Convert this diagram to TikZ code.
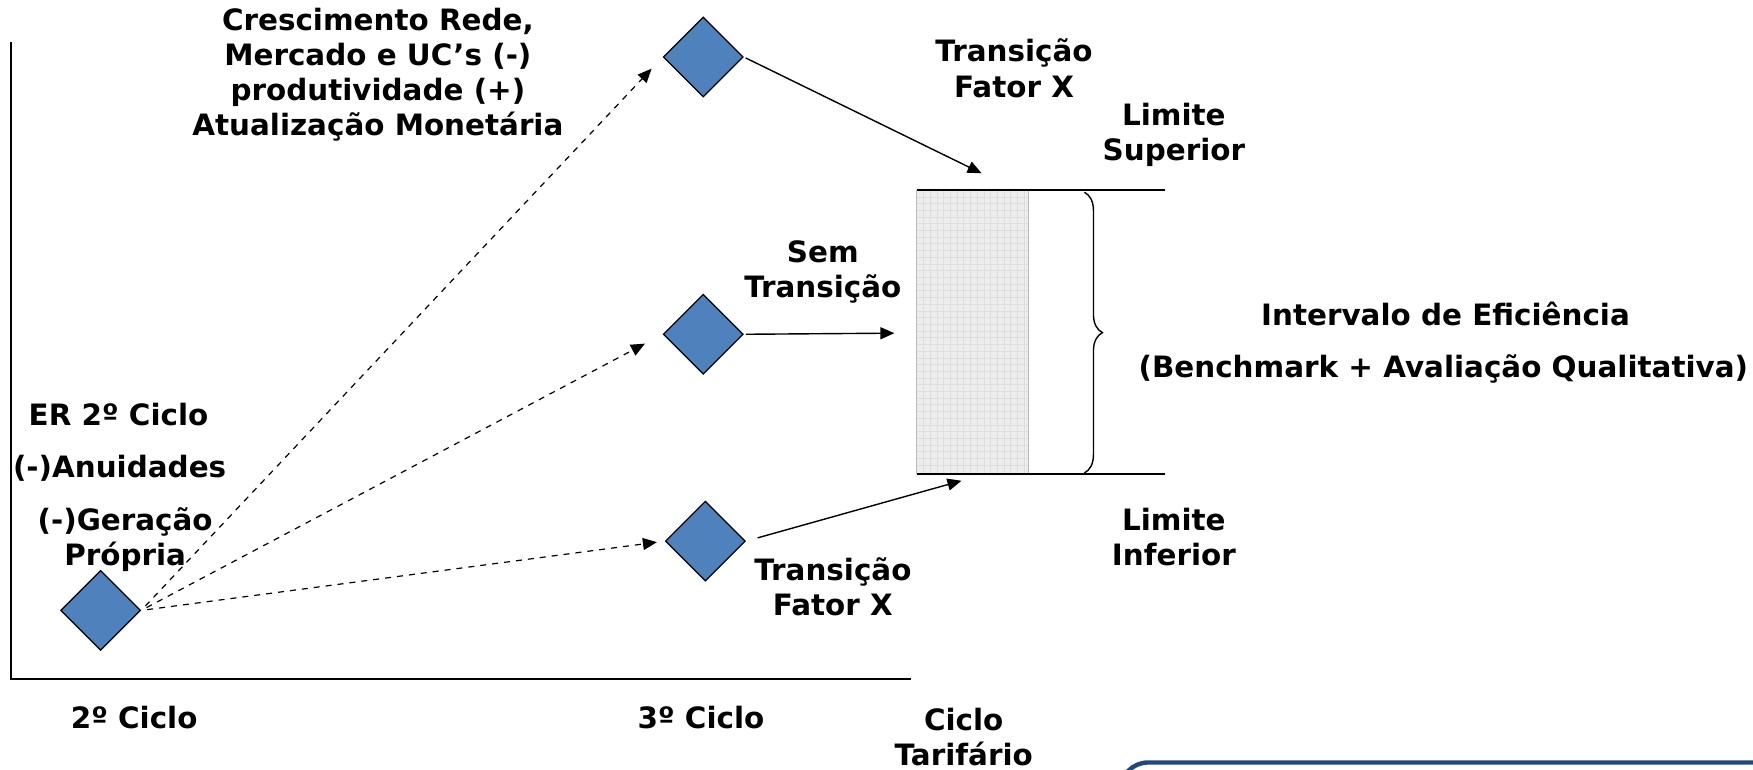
\documentclass[tikz,border=0pt]{standalone}
\usepackage{fontspec}
\setmainfont{DejaVu Sans}
\usepackage{tikz}
\usetikzlibrary{shapes.geometric, arrows.meta}
\usetikzlibrary{decorations.pathreplacing}

\definecolor{losblue}{RGB}{79,129,189}
\definecolor{boxnavy}{RGB}{31,73,125}

\tikzset{
	lbl/.style={font=\bfseries\fontsize{14.7}{17.6}\selectfont, align=center, inner sep=0pt},
	losango/.style={diamond, draw=black, fill=losblue, line width=0.6pt, minimum size=40pt, inner sep=0pt, aspect=1},
	seta/.style={-{Triangle[length=7pt,width=6pt]}, line width=0.7pt},
	tracejada/.style={seta, dashed, line width=0.6pt}
}

\begin{document}
\begin{tikzpicture}[x=0.559pt, y=-0.559pt]
	\useasboundingbox (0,0) rectangle (1568,688);

	%axes
	\draw[line width=0.8pt] (10,38)--(10,608);
	\draw[line width=1.1pt] (10,607)--(815,607);

	%diamonds
	\node[losango] (c2)  at (90,546) {};
	\node[losango] (c3a) at (629,51) {};
	\node[losango] (c3b) at (629,299) {};
	\node[losango] (c3c) at (631,484) {};

	%interval box
	\fill[gray!14] (820,170) rectangle (920,424);
	\foreach \gx in {826,832,...,916} \draw[gray!26, line width=0.25pt] (\gx,170)--(\gx,424);
	\foreach \gy in {176,182,...,420} \draw[gray!26, line width=0.25pt] (820,\gy)--(920,\gy);
	\draw[gray!55, line width=0.7pt] (820,170)--(820,424) (920,170)--(920,424);
	\draw[line width=0.9pt] (820,170)--(1042,170);	%top limit
	\draw[line width=0.9pt] (820,424)--(1042,424);	%bottom limit
	\draw[line width=0.7pt, decorate, decoration={brace, amplitude=9pt}] (970,172)--(970,423);

	%arrow ends
	\coordinate (topend) at (878,155);
	\coordinate (midend) at (800,298);
	\coordinate (botend) at (860,430);

	%dashed arrows
	\draw[tracejada, shorten <=3pt, shorten >=8pt] (c2.east)--(c3a.west);
	\draw[tracejada, shorten <=3pt, shorten >=10pt] (c2.east)--(c3b.west);
	\draw[tracejada, shorten <=3pt, shorten >=4pt] (c2.east)--(c3c.west);

	%solid arrows
	\draw[seta, shorten <=1pt] (c3a.east)--(topend);
	\draw[seta, shorten <=1pt] (c3b.east)--(midend);
	\draw[seta, shorten <=6pt] (c3c.east)--(botend);

	%labels
	\node[lbl] (cresc) at (338,67) {Crescimento Rede,\\Mercado e UC’s (-)\\produtividade (+)\\Atualização Monetária};
	\node[lbl] (trtop) at (907,61) {Transição\\Fator X};
	\node[lbl] (limsup) at (1050,121) {Limite\\Superior};
	\node[lbl] (semtr) at (736,243) {Sem\\Transição};
	\node[lbl] (interv) at (1293,281) {Intervalo de Eficiência};
	\node[lbl] (bench) at (1291,330) {(Benchmark + Avaliação Qualitativa)};
	\node[lbl] (er2) at (106,371) {ER 2º Ciclo};
	\node[lbl] (anuid) at (107,419) {(-)Anuidades};
	\node[lbl] (gerac) at (112,483) {(-)Geração\\Própria};
	\node[lbl] (liminf) at (1050,480) {Limite\\Inferior};
	\node[lbl] (trbot) at (745,525) {Transição\\Fator X};

	%axis labels
	\node[lbl] (ciclo2) at (120,642) {2º Ciclo};
	\node[lbl] (ciclo3) at (627,642) {3º Ciclo};
	\node[lbl] (ciclot) at (862,659) {Ciclo\\Tarifário};

	%box at the corner
	\begin{scope}
		\clip (0,0) rectangle (1568,688);
		\draw[boxnavy, line width=2.2pt, rounded corners=14pt] (1002,682) rectangle (1620,800);
	\end{scope}
\end{tikzpicture}
\end{document}
